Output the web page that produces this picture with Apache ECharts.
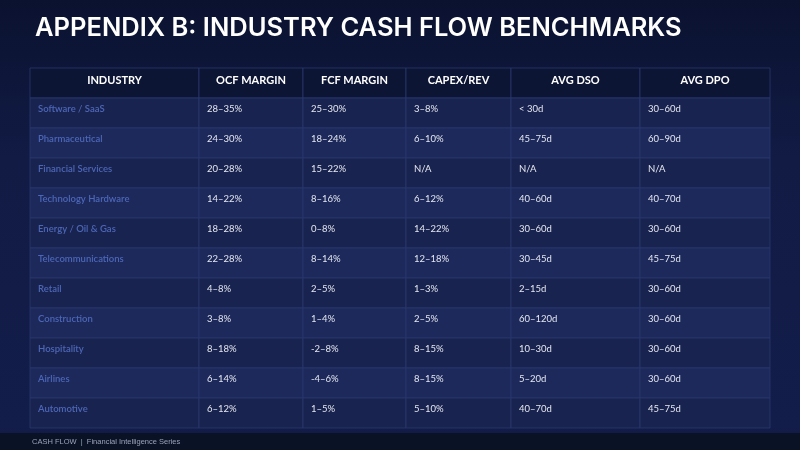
<!DOCTYPE html>
<html><head><meta charset="utf-8">
<script src="https://cdn.jsdelivr.net/npm/echarts@6/dist/echarts.min.js"></script>
<style>html,body{margin:0;padding:0;background:#0d1533}#c{width:800px;height:450px}</style>
</head><body><div id="c"></div>
<script>
const headers = ['INDUSTRY','OCF MARGIN','FCF MARGIN','CAPEX/REV','AVG DSO','AVG DPO'];
const industries = ['Software / SaaS','Pharmaceutical','Financial Services','Technology Hardware','Energy / Oil & Gas','Telecommunications','Retail','Construction','Hospitality','Airlines','Automotive'];
const ocfMargin = ['28–35%','24–30%','20–28%','14–22%','18–28%','22–28%','4–8%','3–8%','8–18%','6–14%','6–12%'];
const fcfMargin = ['25–30%','18–24%','15–22%','8–16%','0–8%','8–14%','2–5%','1–4%','-2–8%','-4–6%','1–5%'];
const capexRev = ['3–8%','6–10%','N/A','6–12%','14–22%','12–18%','1–3%','2–5%','8–15%','8–15%','5–10%'];
const avgDso = ['< 30d','45–75d','N/A','40–60d','30–60d','30–45d','2–15d','60–120d','10–30d','5–20d','40–70d'];
const avgDpo = ['30–60d','60–90d','N/A','40–70d','30–60d','45–75d','30–60d','30–60d','30–60d','30–60d','45–75d'];

const columns = [industries, ocfMargin, fcfMargin, capexRev, avgDso, avgDpo];
const rowLabels = ['header'].concat(industries);
const colEdges = [0, 169, 273, 376, 481, 610, 740];

const cells = [];
for (let r = 0; r < rowLabels.length; r++) {
  for (let c = 0; c < headers.length; c++) {
    const txt = r === 0 ? headers[c] : columns[c][r - 1];
    cells.push({ value: [c, r], txt: txt });
  }
}

const chart = echarts.init(document.getElementById('c'), null, { renderer: 'canvas' });
chart.setOption({
  backgroundColor: {
    type: 'linear', x: 0, y: 0, x2: 0, y2: 1,
    colorStops: [
      { offset: 0, color: '#0b1230' },
      { offset: 0.35, color: '#111b44' },
      { offset: 0.95, color: '#131d4a' },
      { offset: 1, color: '#0f1838' }
    ]
  },
  title: {
    text: 'APPENDIX B: INDUSTRY CASH FLOW BENCHMARKS',
    left: 30, top: 10,
    textStyle: { color: '#ffffff', fontFamily: 'Inter', fontWeight: 600, fontSize: 25.5 }
  },
  graphic: [
    { type: 'rect', left: 0, top: 433, shape: { width: 800, height: 17 }, style: { fill: '#0a1226' }, z: -1 },
    { type: 'text', left: 32, top: 438, style: { text: 'CASH FLOW  |  Financial Intelligence Series', fill: '#9aa3bb', font: '7.5px "Liberation Sans", sans-serif' } }
  ],
  grid: { left: 30, right: 30, top: 68, bottom: 22 },
  xAxis: { type: 'value', min: 0, max: 740, show: false },
  yAxis: { type: 'category', data: rowLabels, inverse: true, show: false },
  series: [{
    type: 'custom',
    data: cells,
    renderItem: function (params, api) {
      const c = api.value(0), r = api.value(1);
      const d = cells[params.dataIndex];
      const p0 = api.coord([colEdges[c], r]);
      const p1 = api.coord([colEdges[c + 1], r]);
      const h = api.size([0, 1])[1];
      const x = p0[0], y = p0[1] - h / 2, w = p1[0] - p0[0];
      let fill;
      if (r === 0) fill = '#0d1535';
      else fill = (r % 2 === 1) ? '#19234f' : '#1d295b';
      const children = [{
        type: 'rect',
        shape: { x: x, y: y, width: w, height: h },
        style: { fill: fill, stroke: '#2a3870', lineWidth: 0.8 }
      }];
      if (r === 0) {
        children.push({ type: 'text', style: {
          x: x + w / 2, y: y + 12, text: d.txt, textAlign: 'center', textVerticalAlign: 'middle',
          fill: '#ffffff', font: 'bold 11px Lato, "Liberation Sans", sans-serif' } });
      } else {
        children.push({ type: 'text', style: {
          x: x + 8, y: y + 10.5, text: d.txt, textAlign: 'left', textVerticalAlign: 'middle',
          fill: c === 0 ? '#4c66b8' : '#e4e7f0',
          font: (c === 0 ? '600 ' : '') + '9.5px Lato, "Liberation Sans", sans-serif' } });
      }
      return { type: 'group', children: children };
    }
  }]
});
</script>
</body></html>
